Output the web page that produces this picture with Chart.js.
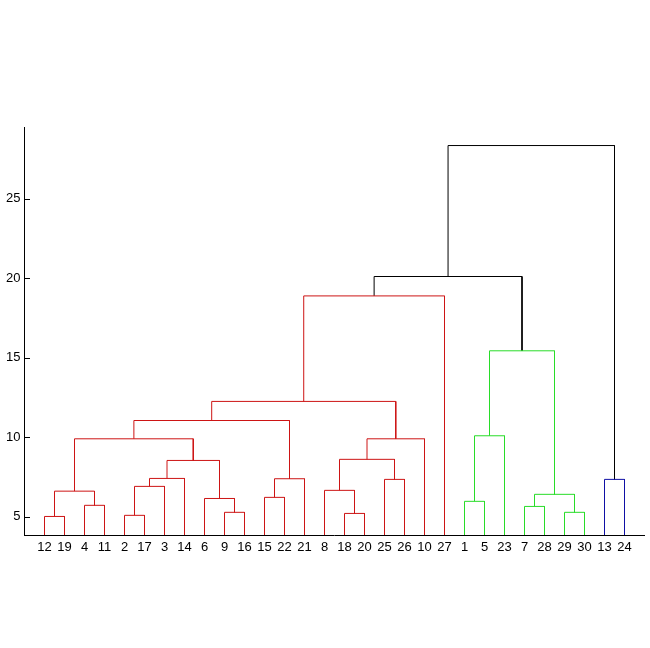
<!DOCTYPE html>
<html>
<head>
<meta charset="utf-8">
<script src="https://cdn.jsdelivr.net/npm/chart.js@4"></script>
<style>
  html, body { margin: 0; padding: 0; background: #fff; }
  #wrap { width: 650px; height: 648px; }
</style>
</head>
<body>
<div id="wrap"><canvas id="dendro"></canvas></div>
<script>
// leaf labels, left to right
var leafOrder = [12, 19, 4, 11, 2, 17, 3, 14, 6, 9, 16, 15, 22, 21, 8, 18, 20, 25, 26, 10, 27, 1, 5, 23, 7, 28, 29, 30, 13, 24];

// linkage (MATLAB Z style): ids 1..30 are leaves, merge k makes cluster 30+k
var mergeLeft  = [12,  2, 18,  9, 29,  7,  4,  1,  6, 15, 36, 31,  8, 32, 25, 13, 40, 44, 48, 43, 42, 50, 38, 51, 54, 53, 55, 57, 58];
var mergeRight = [19, 17, 20, 16, 30, 28, 11,  5, 34, 22, 35, 37, 33,  3, 26, 24, 21, 14, 39, 45, 49, 10, 23, 47, 52, 41, 27, 56, 46];
var mergeHeight = [5.02, 5.09, 5.21, 5.28, 5.28, 5.65, 5.72, 5.97, 6.15, 6.22, 6.41, 6.61, 6.66, 6.91,
                   7.35, 7.35, 7.39, 7.41, 8.54, 8.61, 9.90, 9.90, 10.09, 11.05, 12.25, 15.43, 18.88, 20.10, 28.33];

var yTicks = [5, 10, 15, 20, 25];

(function(){
  var nLeaves = leafOrder.length;
  var maxH = Math.max.apply(null, mergeHeight);
  var minH = Math.min.apply(null, mergeHeight);
  var span = maxH - minH;
  var yMin = minH - 0.05 * span, yMax = maxH + 0.05 * span;
  var threshold = 0.7 * maxH;
  var palette = ['rgb(205,20,20)', 'rgb(40,220,40)', 'rgb(15,15,165)'];

  // x position and height of every node
  var xPos = {}, hPos = {}, parent = {};
  leafOrder.forEach(function(leaf, i){ xPos[leaf] = i + 1; hPos[leaf] = yMin; });
  mergeHeight.forEach(function(h, k){
    var id = nLeaves + k + 1;
    xPos[id] = (xPos[mergeLeft[k]] + xPos[mergeRight[k]]) / 2;
    hPos[id] = h;
    parent[mergeLeft[k]] = id;
    parent[mergeRight[k]] = id;
  });

  // colour groups: top-most cluster below the threshold
  function groupRoot(id){
    while (parent[id] && hPos[parent[id]] < threshold) id = parent[id];
    return id;
  }
  var groupColor = {}, nextColor = 0;
  var order = mergeHeight.map(function(h, k){ return k; })
    .sort(function(a, b){ return xPos[nLeaves + a + 1] - xPos[nLeaves + b + 1]; });
  order.forEach(function(k){
    if (mergeHeight[k] >= threshold) return;
    var r = groupRoot(nLeaves + k + 1);
    if (groupColor[r] === undefined) groupColor[r] = palette[nextColor++ % palette.length];
  });

  var datasets = mergeHeight.map(function(h, k){
    var a = mergeLeft[k], b = mergeRight[k];
    var col = h < threshold ? groupColor[groupRoot(nLeaves + k + 1)] : '#000';
    return {
      data: [
        {x: xPos[a], y: hPos[a]},
        {x: xPos[a], y: h},
        {x: xPos[b], y: h},
        {x: xPos[b], y: hPos[b]}
      ],
      showLine: true,
      borderColor: col,
      borderWidth: 1,
      pointRadius: 0,
      fill: false,
      tension: 0
    };
  });

  var font = {family: '"Liberation Sans", Arial, sans-serif', size: 13};

  //small inward tick marks on the y axis
  var innerTicks = {
    id: 'innerTicks',
    afterDraw: function(chart){
      var c = chart.ctx, ys = chart.scales.y, area = chart.chartArea;
      c.save();
      c.strokeStyle = '#000';
      c.lineWidth = 1;
      yTicks.forEach(function(v){
        var py = Math.round(ys.getPixelForValue(v)) + 0.5;
        c.beginPath();
        c.moveTo(Math.floor(area.left), py);
        c.lineTo(Math.floor(area.left) + 6, py);
        c.stroke();
      });
      c.restore();
    }
  };

  new Chart(document.getElementById('dendro'), {
    type: 'scatter',
    data: {datasets: datasets},
    plugins: [innerTicks],
    options: {
      responsive: true,
      maintainAspectRatio: false,
      animation: false,
      layout: {padding: {top: 127, right: 5.5, bottom: 83, left: 0.5}},
      plugins: {legend: {display: false}, tooltip: {enabled: false}},
      scales: {
        x: {
          type: 'linear',
          min: 0,
          max: nLeaves + 1,
          grid: {display: false, drawTicks: false},
          border: {display: true, color: '#000', width: 1},
          afterBuildTicks: function(scale){
            scale.ticks = leafOrder.map(function(l, i){ return {value: i + 1}; });
          },
          afterFit: function(scale){ scale.height = 30; },
          ticks: {
            autoSkip: false,
            maxRotation: 0,
            padding: 5,
            color: '#000',
            font: font,
            callback: function(v){ return String(leafOrder[v - 1]); }
          }
        },
        y: {
          min: yMin,
          max: yMax,
          grid: {display: false, drawTicks: false},
          border: {display: true, color: '#000', width: 1},
          afterBuildTicks: function(scale){
            scale.ticks = yTicks.map(function(v){ return {value: v}; });
          },
          afterFit: function(scale){ scale.width = 24; },
          ticks: {padding: 4, color: '#000', font: font}
        }
      }
    }
  });
})();
</script>
</body>
</html>
